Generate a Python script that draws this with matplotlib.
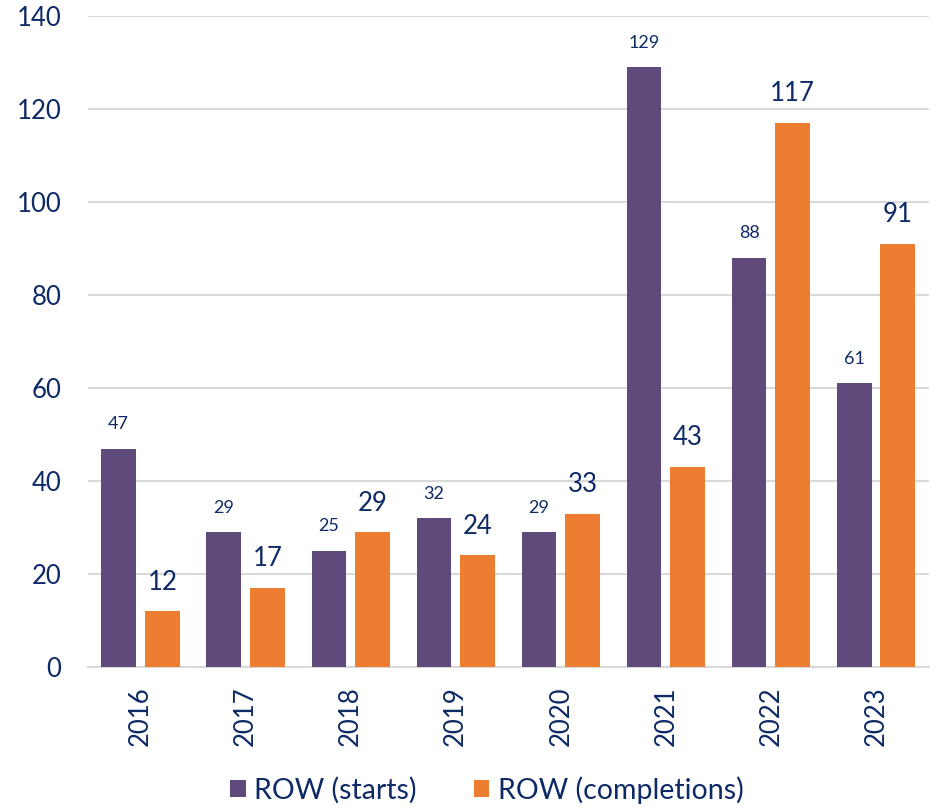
import matplotlib
matplotlib.use("Agg")
import matplotlib.pyplot as plt
import numpy as np

years = ["2016", "2017", "2018", "2019", "2020", "2021", "2022", "2023"]
starts = [47, 29, 25, 32, 29, 129, 88, 61]
completions = [12, 17, 29, 24, 33, 43, 117, 91]
series_names = ["ROW (starts)", "ROW (completions)"]

plt.rcParams['font.family'] = ['Lato', 'DejaVu Sans']
navy = "#0E2A66"
purple = "#604A7B"
orange = "#ED7D31"
grid = "#D9D9D9"

fig = plt.figure(figsize=(9.36, 8.1), dpi=100)
ax = fig.add_axes([0.094, 0.1765, 0.898, 0.8035])

x = np.arange(len(years))
w = 0.33
gap = 0.085
b1 = ax.bar(x - (w + gap) / 2, starts, w, color=purple, label=series_names[0], zorder=3)
b2 = ax.bar(x + (w + gap) / 2, completions, w, color=orange, label=series_names[1], zorder=3)

for rect, v in zip(b1, starts):
    ax.annotate(str(v), (rect.get_x() + rect.get_width() / 2, v), xytext=(0, 12),
                textcoords="offset points", ha="center", va="bottom", fontsize=13, color=navy)
for rect, v in zip(b2, completions):
    ax.annotate(str(v), (rect.get_x() + rect.get_width() / 2, v), xytext=(0, 12),
                textcoords="offset points", ha="center", va="bottom", fontsize=18.5, color=navy)

ax.set_xlim(-0.5, len(years) - 0.5)
ax.set_ylim(0, 140)
ax.set_yticks(np.arange(0, 141, 20))
ax.yaxis.grid(True, color=grid, linewidth=1.5, zorder=0)
ax.set_axisbelow(True)
for s in ["top", "right", "left"]:
    ax.spines[s].set_visible(False)
ax.spines["bottom"].set_color(grid)
ax.spines["bottom"].set_linewidth(1.5)
ax.tick_params(axis="both", length=0, labelsize=18.5, labelcolor=navy)
ax.tick_params(axis="y", pad=19)
ax.tick_params(axis="x", pad=14)
ax.set_xticks(x)
ax.set_xticklabels(years, rotation=90)

fig.legend(handles=[b1, b2], labels=series_names, loc="center", bbox_to_anchor=(0.52, 0.025),
           ncol=2, frameon=False, fontsize=20.5, labelcolor=navy, handlelength=0.55,
           handleheight=0.55, columnspacing=2.0, handletextpad=0.3)

fig.savefig("out.png", dpi=100)
